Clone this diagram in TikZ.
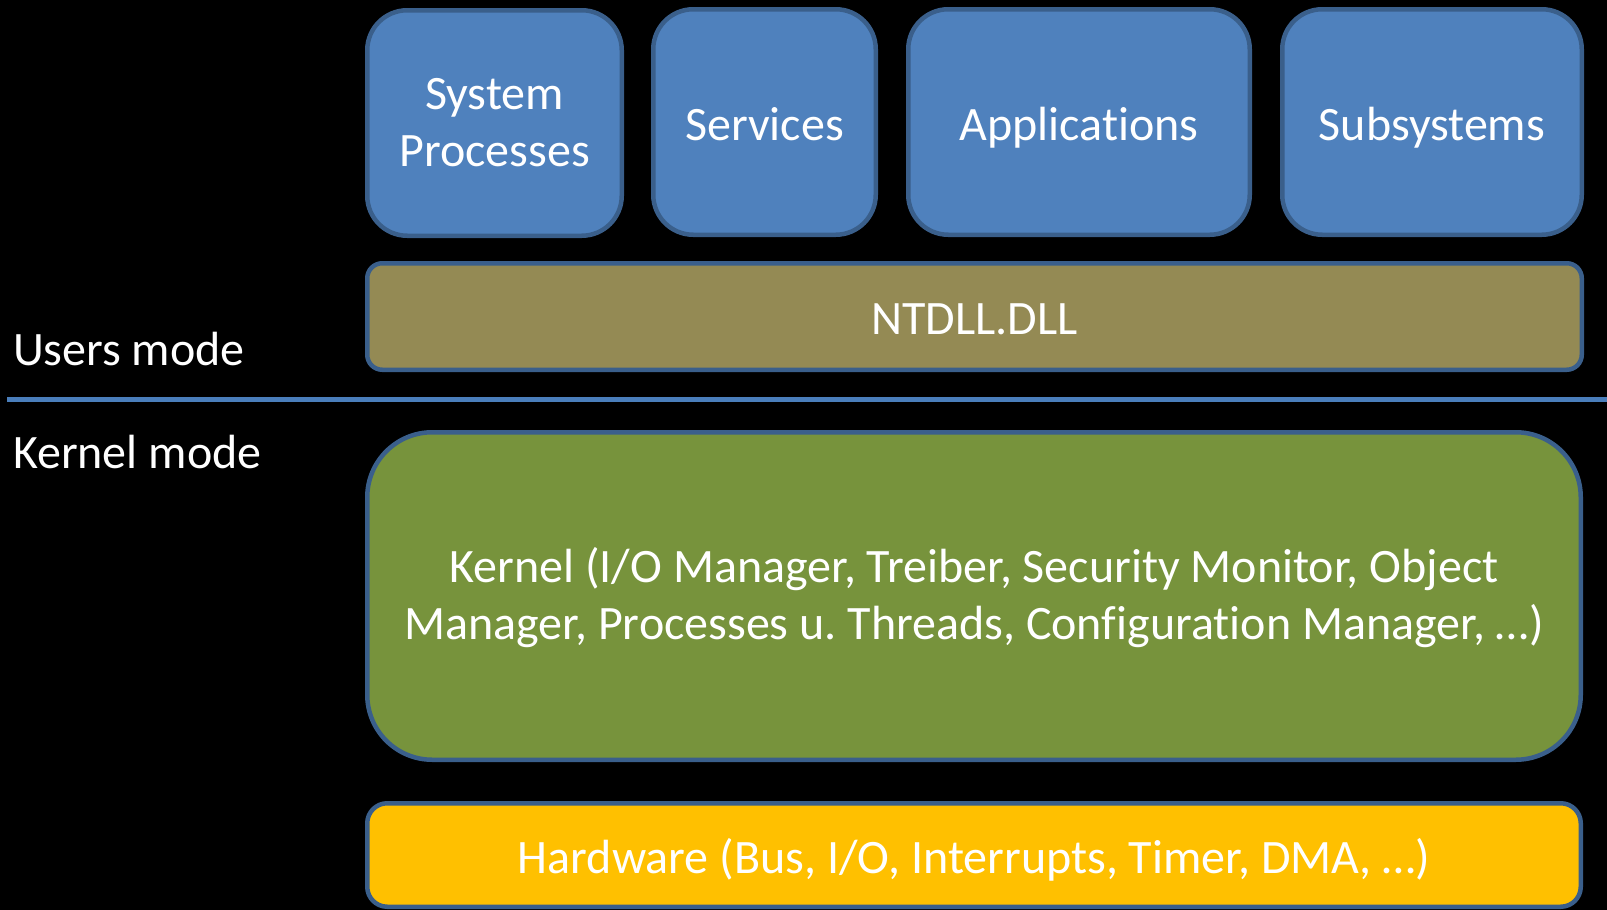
\documentclass[tikz,border=0pt]{standalone}
\usepackage{fontspec}
\setmainfont{Carlito}[Ligatures=NoCommon]
\frenchspacing
\definecolor{bluefill}{HTML}{4F81BD}
\definecolor{bord}{HTML}{3A5F8B}
\definecolor{ntfill}{HTML}{948A54}
\definecolor{kfill}{HTML}{77933C}
\definecolor{hwfill}{HTML}{FFC000}
\definecolor{sepline}{HTML}{4A7EBB}
\begin{document}
\begin{tikzpicture}[x=1pt,y=-1pt,
  every node/.style={text=white,font=\fontsize{48}{57}\selectfont,inner sep=0pt,outer sep=0pt},
  box/.style={draw=bord,line width=4.5pt,align=center},
  oneline/.style={text height=36pt,text depth=0pt},
  topbox/.style={box,fill=bluefill,rounded corners=40pt,minimum height=225.5pt},
  lbl/.style={anchor=base west}]
\fill[black] (0,0) rectangle (1607,910);
\useasboundingbox (0,0) rectangle (1607,910);
\node[topbox,minimum width=254.5pt] (sp) at (494.5,123) {System\\Processes};
\node[topbox,oneline,minimum width=222.5pt] (sv) at (764.5,122) {Services};
\node[topbox,oneline,minimum width=341.5pt] (ap) at (1079,122) {Applications};
\node[topbox,oneline,minimum width=299.5pt] (ss) at (1432,122) {Subsystems};
\node[box,oneline,fill=ntfill,rounded corners=15pt,minimum width=1214.5pt,minimum height=106.5pt] (nt) at (974.5,316.5) {NTDLL.DLL};
\node[box,fill=kfill,rounded corners=65pt,minimum width=1213.5pt,minimum height=327.5pt] (kn) at (974,596) {};
\node[align=center] (kt) at ([yshift=-2pt]kn.center) {Kernel (I/O Manager, Treiber, Security Monitor, Object\\Manager, Processes u. Threads, Configuration Manager, …)};
\node[box,oneline,fill=hwfill,rounded corners=20pt,minimum width=1213.5pt,minimum height=103.5pt] (hw) at (974,855) {Hardware (Bus, I/O, Interrupts, Timer, DMA, …)};
\coordinate (l1) at (7,399);
\coordinate (l2) at (1607,399);
\draw[sepline,line width=5pt] (l1) -- (l2);
\node[lbl] (um) at (13,365) {Users mode};
\node[lbl] (km) at (13,468) {Kernel mode};
\end{tikzpicture}
\end{document}
